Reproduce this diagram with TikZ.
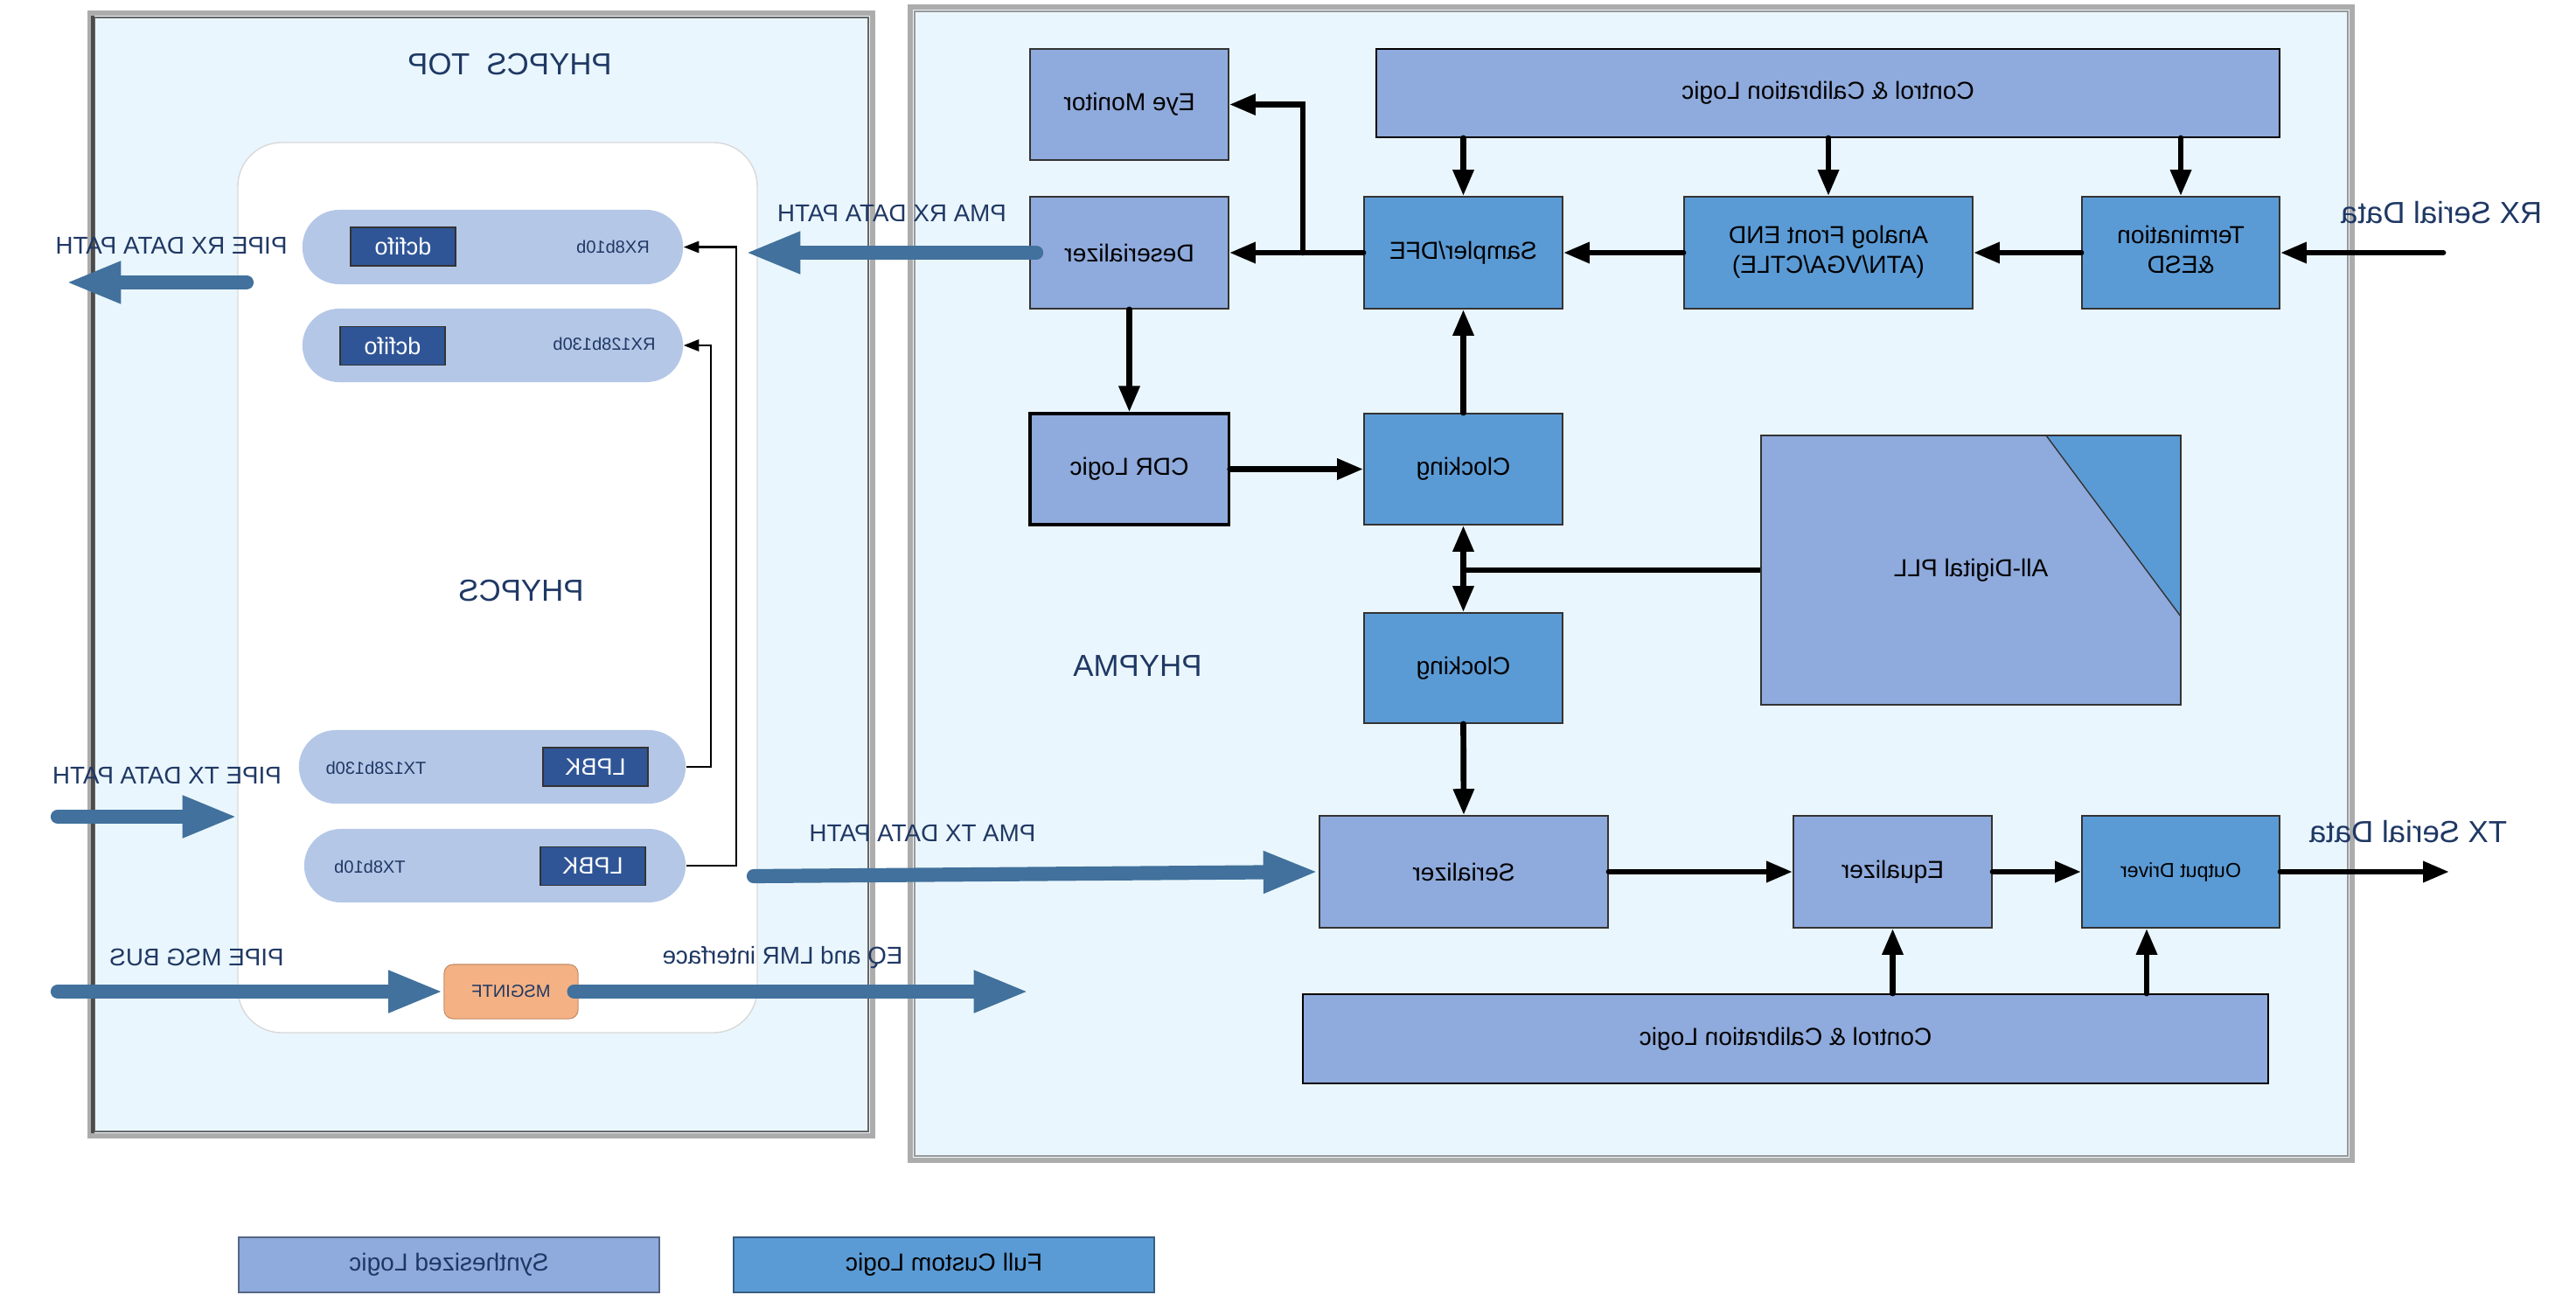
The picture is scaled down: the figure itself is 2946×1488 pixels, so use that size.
\documentclass[tikz,border=0pt]{standalone}
\usepackage{fontspec}
\setmainfont{Liberation Sans}
\usepackage{graphicx}
\usetikzlibrary{arrows.meta,calc}
\definecolor{synC}{HTML}{8FAADC}
\definecolor{fullC}{HTML}{5B9BD5}
\definecolor{frameC}{HTML}{EAF6FD}
\definecolor{pillC}{HTML}{B4C7E7}
\definecolor{fifoC}{HTML}{2F5597}
\definecolor{msgC}{HTML}{F4B183}
\definecolor{busC}{HTML}{41719C}
\definecolor{navyC}{HTML}{1F3864}
\newcommand{\mt}[1]{\reflectbox{#1}}
\newcommand{\mtt}[1]{\reflectbox{\begin{tabular}{@{}c@{}}#1\end{tabular}}}
\begin{document}
\begin{tikzpicture}[x=0.01cm,y=-0.01cm,
  box/.style={draw=black!80, line width=0.5pt, inner sep=0pt, font=\fontsize{8}{9.6}\selectfont, text=black},
  syn/.style={box, fill=synC},
  full/.style={box, fill=fullC},
  lab/.style={text=navyC, font=\fontsize{7.9}{9}\selectfont, inner sep=0pt},
  biglab/.style={text=navyC, font=\fontsize{9.9}{11}\selectfont, inner sep=0pt},
  pill/.style={fill=pillC, rounded corners=0.42cm, inner sep=0pt},
  chip/.style={fill=fifoC, draw=black!80, line width=0.5pt, text=white, font=\fontsize{7.7}{9}\selectfont, inner sep=0pt, minimum width=1.2cm, minimum height=0.44cm},
  tinylab/.style={text=navyC, font=\fontsize{5.7}{7}\selectfont, inner sep=0pt},
  blk/.style={line width=1.9pt, line cap=round, -{Triangle[length=8.5pt,width=6.5pt]}},
  blktwo/.style={line width=1.9pt, {Triangle[length=8.5pt,width=6.5pt]}-{Triangle[length=8.5pt,width=6.5pt]}},
  bus/.style={busC, line width=4.6pt, line cap=round, -{Triangle[length=18pt,width=12.5pt]}},
  loopl/.style={line width=0.6pt, -{Triangle[length=5pt,width=3.8pt]}},
  frame/.style={fill=frameC, draw=gray!65, line width=1.8pt}]
\useasboundingbox (0,0) rectangle (2946,1488);
\fill[white] (0,0) rectangle (2946,1488);

% frames
\draw[frame] (103,15) rectangle (998,1299);
\draw[black!60, line width=0.5pt] (108,20) rectangle (993,1294);
\draw[black!70, line width=1pt] (106,18) -- (106,1296);
\draw[frame] (1041,8) rectangle (2690,1327);
\draw[black!40, line width=0.5pt] (1046,13) rectangle (2685,1322);

% PHYPCS inner box
\draw[fill=white, draw=gray!30, line width=0.4pt, rounded corners=0.5cm] (272,163) rectangle (866,1181);

\node[biglab] (ttop) at (583,74) {\mt{PHYPCS\ \ TOP}};
\node[biglab] (tpcs) at (596,676) {\mt{PHYPCS}};
\node[biglab] (tpma) at (1301,762) {\mt{PHYPMA}};

% pills
\node[pill, minimum width=4.35cm, minimum height=0.85cm] (p1) at (563.5,282.5) {};
\node[pill, minimum width=4.35cm, minimum height=0.84cm] (p2) at (563.5,395) {};
\node[pill, minimum width=4.42cm, minimum height=0.84cm] (p3) at (563,877) {};
\node[pill, minimum width=4.36cm, minimum height=0.84cm] (p4) at (566,990) {};
\node[chip] (f1) at (461,282) {\mt{dcfifo}};
\node[chip] (f2) at (449,395.5) {\mt{dcfifo}};
\node[chip] (l1) at (681,877) {\mt{LPBK}};
\node[chip] (l2) at (678,990.5) {\mt{LPBK}};
\node[tinylab] (t1) at (701,282) {\mt{RX8b10b}};
\node[tinylab] (t2) at (691,393) {\mt{RX128b130b}};
\node[tinylab] (t3) at (430,878) {\mt{TX128b130b}};
\node[tinylab] (t4) at (423,991) {\mt{TX8b10b}};

\draw[loopl] (p4.east) -- ++(57,0) |- (p1.east);
\draw[loopl] (p3.east) -- ++(28,0) |- (p2.east);

\node[fill=msgC, draw=msgC!80!black, line width=0.3pt, rounded corners=0.1cm, minimum width=1.53cm, minimum height=0.62cm, inner sep=0pt, font=\fontsize{5.7}{7}\selectfont, text=navyC] (msg) at (584.5,1134) {\mt{MSGINTF}};

% PMA boxes
\node[syn, minimum width=2.27cm, minimum height=1.27cm] (eye) at (1291.5,119.5) {\mt{Eye Monitor}};
\node[syn, minimum width=2.27cm, minimum height=1.28cm] (des) at (1291.5,289) {\mt{Deserializer}};
\node[syn, line width=0.9pt, draw=black, minimum width=2.27cm, minimum height=1.27cm] (cdr) at (1291.5,536.5) {\mt{CDR Logic}};
\node[full, minimum width=2.27cm, minimum height=1.28cm] (samp) at (1673.5,289) {\mt{Sampler/DFE}};
\node[full, minimum width=2.27cm, minimum height=1.27cm] (clk1) at (1673.5,536.5) {\mt{Clocking}};
\node[full, minimum width=2.27cm, minimum height=1.26cm] (clk2) at (1673.5,764) {\mt{Clocking}};
\node[syn, draw=black, minimum width=10.33cm, minimum height=1.01cm] (ctrl1) at (2090.5,106.5) {\mt{Control \& Calibration Logic}};
\node[full, minimum width=3.30cm, minimum height=1.28cm] (afe) at (2091,289) {\mtt{Analog Front END\\(ATN/VGA/CTLE)}};
\node[full, minimum width=2.26cm, minimum height=1.28cm] (term) at (2494,289) {\mtt{Termination\\\&ESD}};
\node[syn, line width=0.4pt, minimum width=4.80cm, minimum height=3.08cm] (pll) at (2254,652) {};
\fill[fullC] (2340,498) -- (2494,498) -- (2494,705) -- cycle;
\draw[black!80, line width=0.4pt] (2340,498) -- (2494,705);
\draw[black!80, line width=0.4pt] (2014,498) rectangle (2494,806);
\node[box, draw=none] (plltxt) at (pll.center) {\mt{All-Digital PLL}};
\node[syn, minimum width=3.30cm, minimum height=1.28cm] (ser) at (1674,997) {\mt{Serializer}};
\node[syn, minimum width=2.27cm, minimum height=1.28cm] (eq) at (2164.5,997) {\mt{Equalizer}};
\node[full, minimum width=2.26cm, minimum height=1.28cm, font=\fontsize{6.6}{8}\selectfont] (drv) at (2494,997) {\mt{Output Driver}};
\node[syn, draw=black, minimum width=11.04cm, minimum height=1.02cm] (ctrl2) at (2042,1188) {\mt{Control \& Calibration Logic}};

% black arrows
\draw[blk] (ctrl1.south -| samp.north) -- (samp.north);
\draw[blk] (ctrl1.south -| afe.north) -- (afe.north);
\draw[blk] (ctrl1.south -| term.north) -- (term.north);
\coordinate (rxin) at (2794,289);
\draw[blk] (rxin) -- (term.east);
\draw[blk] (term.west) -- (afe.east);
\draw[blk] (afe.west) -- (samp.east);
\draw[blk] (samp.west) -- (des.east);
\coordinate (br) at (1490,289);
\draw[blk] (br) |- (eye.east);
\draw[blk] (des.south) -- (cdr.north);
\draw[blk] (cdr.east) -- (clk1.west);
\draw[blk] (clk1.north) -- (samp.south);
\draw[blktwo] (clk1.south) -- (clk2.north);
\draw[line width=1.9pt] (pll.west) -- (pll.west -| clk1.south);
\draw[blk] (clk2.south) -- (ser.north);
\draw[blk] (ser.east) -- (eq.west);
\draw[blk] (eq.east) -- (drv.west);
\coordinate (txout) at (2801,997);
\draw[blk] (drv.east) -- (txout);
\draw[blk] (ctrl2.north -| eq.south) -- (eq.south);
\coordinate (dd) at ([xshift=-0.39cm]drv.south);
\draw[blk] (ctrl2.north -| dd) -- (dd);

% bus arrows
\coordinate (rxs) at (282,323); \coordinate (rxo) at (75,323);
\draw[bus] (rxs) -- (rxo);
\coordinate (pmarxtip) at (852,289);
\draw[bus] ([xshift=0.08cm]des.west) -- (pmarxtip);
\coordinate (txs) at (66,934); \coordinate (txt) at (272,934);
\draw[bus] (txs) -- (txt);
\coordinate (pmatxs) at (862,1002);
\draw[bus] (pmatxs) -- (ser.west);
\coordinate (msgs) at (66,1134);
\draw[bus] (msgs) -- (msg.west);
\coordinate (eqt) at (1177,1134);
\draw[bus] ([xshift=-0.05cm]msg.east) -- (eqt);

% labels
\node[lab] (lrx) at (196,281) {\mt{PIPE RX DATA PATH}};
\node[lab] (lpmarx) at (1020,244) {\mt{PMA RX DATA PATH}};
\node[lab] (ltx) at (191,887) {\mt{PIPE TX DATA PATH}};
\node[lab] (lpmatx) at (1055,953) {\mt{PMA TX DATA PATH}};
\node[lab] (lmsg) at (225,1095) {\mt{PIPE MSG BUS}};
\node[lab] (leq) at (895,1095) {\mt{EQ and LMR interface}};
\node[biglab] (lrxs) at (2792,243) {\mt{RX Serial Data}};
\node[biglab] (ltxs) at (2754,951) {\mt{TX Serial Data}};

% legend
\node[syn, draw=synC!60!black, line width=0.6pt, minimum width=4.81cm, minimum height=0.63cm, text=navyC] (legs) at (513.5,1446.5) {\mt{Synthesized Logic}};
\node[full, draw=fullC!60!black, line width=0.6pt, minimum width=4.81cm, minimum height=0.63cm] (legf) at (1079.5,1446.5) {\mt{Full Custom Logic}};
\end{tikzpicture}
\end{document}
